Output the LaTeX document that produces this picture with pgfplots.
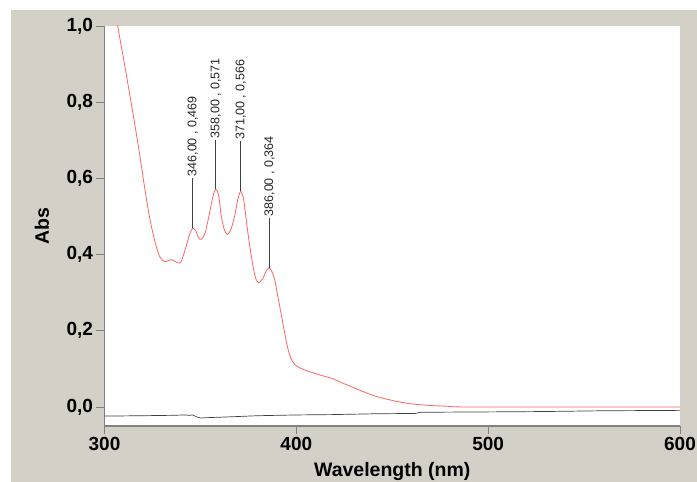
\documentclass[border=0pt]{standalone}
\usepackage{pgfplots}
\pgfplotsset{compat=1.18}
\usepackage{fontspec}
\setmainfont{Liberation Sans}
\definecolor{bggray}{HTML}{D4D0C8}
\definecolor{spine}{HTML}{808080}
\definecolor{redline}{HTML}{FF6464}
\definecolor{darkline}{HTML}{404040}
\begin{document}
\begin{tikzpicture}
\useasboundingbox (0pt,0pt) rectangle (697pt,482pt);
\fill[white] (0pt,0pt) rectangle (697pt,482pt);
\fill[bggray] (11pt,0pt) rectangle (697pt,472pt);
\begin{axis}[
  at={(104.5pt,56pt)}, anchor=south west,
  scale only axis, width=575.5pt, height=400pt,
  xmin=300, xmax=600, ymin=-0.05, ymax=1.0,
  axis background/.style={fill=white},
  axis x line*=bottom, axis y line*=left,
  axis line style={spine, line width=1.2pt},
  every outer x axis line/.append style={-},
  every outer y axis line/.append style={-},
  tick align=outside, major tick length=8pt,
  tick style={spine, line width=0.8pt},
  xtick={300,400,500,600},
  ytick={0,0.2,0.4,0.6,0.8,1.0},
  /pgf/number format/assume math mode=true,
  /pgf/number format/use comma,
  yticklabel style={/pgf/number format/fixed, /pgf/number format/fixed zerofill, /pgf/number format/precision=1},
  xticklabel style={/pgf/number format/1000 sep={}},
  tick label style={font=\bfseries\fontsize{19}{22}\selectfont},
  xlabel={Wavelength (nm)}, ylabel={Abs},
  label style={font=\bfseries\fontsize{19.5}{22}\selectfont},
  xlabel style={at={(axis description cs:0.5,-0.1275)}, anchor=base},
  ylabel style={at={(axis description cs:-0.1087,0.5)}, anchor=center},
  clip=true,
]
\addplot[redline, line width=0.8pt, smooth, tension=0.5] coordinates {
(300,1.22) (303,1.12) (306.9,1.0) (310.4,0.90) (313.6,0.807) (315.6,0.748)
(318.2,0.667) (320.8,0.58) (323.4,0.50) (326,0.44) (328.6,0.396) (331.2,0.382)
(333.2,0.384) (334.7,0.387) (336.5,0.383) (338.5,0.378) (340,0.382) (342.6,0.422)
(344.5,0.455) (346,0.469) (347.5,0.463) (349,0.445) (350.4,0.440) (352.5,0.458)
(354.8,0.51) (356.5,0.552) (358,0.571) (359.5,0.555) (360.9,0.50) (362.5,0.465)
(364,0.453) (365.8,0.465) (367.8,0.50) (369.5,0.545) (371,0.566) (372.5,0.545)
(373.9,0.49) (375.5,0.43) (377.4,0.37) (379,0.335) (380.5,0.326) (382.6,0.338)
(384.3,0.357) (385.8,0.365) (387.3,0.355) (388.7,0.335) (390,0.30) (391.3,0.265)
(393.9,0.195) (395.5,0.155) (397.4,0.125) (399.5,0.110) (401.7,0.103) (406,0.094)
(410.4,0.087) (415,0.080) (419.1,0.074) (423,0.065) (427.8,0.055) (434.5,0.041)
(442,0.027) (451.9,0.015) (460,0.008) (469.3,0.004) (478,0.002) (486.5,0.0)
(520,0.0) (560,0.0) (600,0.0)
};
\addplot[darkline, line width=0.7pt] coordinates {
(300,-0.024) (320,-0.023) (335,-0.022) (342,-0.021) (344,-0.022) (346,-0.021)
(348,-0.026) (350,-0.029) (354,-0.028) (360,-0.027) (370,-0.025) (380,-0.023)
(390,-0.022) (400,-0.021) (420,-0.020) (440,-0.018) (462,-0.017) (465,-0.014)
(500,-0.013) (530,-0.012) (560,-0.010) (600,-0.009)
};
\addplot[darkline, line width=0.6pt] coordinates {(346,0.469) (346,0.602)}
  node[pos=1, rotate=90, anchor=west, inner sep=1pt, font=\fontsize{12.5}{14}\selectfont, text=black!85] {346,00 , 0,469};
\addplot[darkline, line width=0.6pt] coordinates {(358,0.571) (358,0.702)}
  node[pos=1, rotate=90, anchor=west, inner sep=1pt, font=\fontsize{12.5}{14}\selectfont, text=black!85] {358,00 , 0,571};
\addplot[darkline, line width=0.6pt] coordinates {(371,0.566) (371,0.698)}
  node[pos=1, rotate=90, anchor=west, inner sep=1pt, font=\fontsize{12.5}{14}\selectfont, text=black!85] {371,00 , 0,566};
\addplot[darkline, line width=0.6pt] coordinates {(386,0.364) (386,0.497)}
  node[pos=1, rotate=90, anchor=west, inner sep=1pt, font=\fontsize{12.5}{14}\selectfont, text=black!85] {386,00 , 0,364};
\end{axis}
\end{tikzpicture}
\end{document}
